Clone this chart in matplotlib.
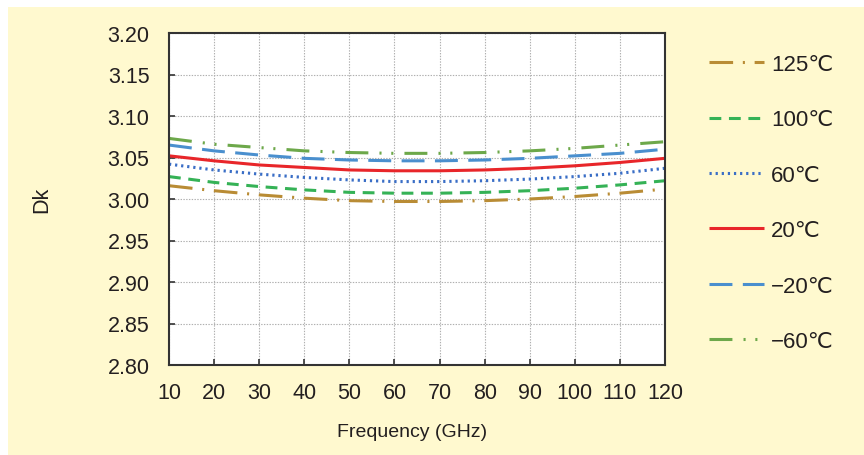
import matplotlib
matplotlib.use("Agg")
import matplotlib.pyplot as plt
from matplotlib.patches import Rectangle

plt.rcParams['font.family'] = ['Liberation Sans', 'DejaVu Sans']
plt.rcParams['lines.scale_dashes'] = False

# frequency (GHz) and Dk per temperature
freq = [10, 20, 30, 40, 50, 60, 70, 80, 90, 100, 110, 120]
dk_125 = [3.016, 3.010, 3.005, 3.001, 2.998, 2.997, 2.997, 2.998, 3.000, 3.003, 3.007, 3.012]
dk_100 = [3.027, 3.020, 3.015, 3.011, 3.008, 3.007, 3.007, 3.008, 3.010, 3.013, 3.017, 3.022]
dk_60 = [3.042, 3.035, 3.030, 3.026, 3.023, 3.021, 3.021, 3.022, 3.024, 3.027, 3.031, 3.037]
dk_20 = [3.052, 3.046, 3.041, 3.038, 3.035, 3.034, 3.034, 3.035, 3.037, 3.040, 3.044, 3.049]
dk_m20 = [3.065, 3.058, 3.053, 3.049, 3.047, 3.046, 3.046, 3.047, 3.049, 3.052, 3.055, 3.060]
dk_m60 = [3.073, 3.066, 3.062, 3.058, 3.056, 3.055, 3.055, 3.056, 3.058, 3.061, 3.065, 3.069]
labels = ["125℃", "100℃", "60℃", "20℃", "−20℃", "−60℃"]

text_color = "#231f20"

fig = plt.figure(figsize=(8.64, 4.56), dpi=100)
fig.patch.set_facecolor("white")
fig.add_artist(Rectangle((8 / 864, 0), 1 - 8 / 864, (456 - 8) / 456,
                         transform=fig.transFigure, facecolor="#fff9cf",
                         edgecolor="none", zorder=-10))

ax = fig.add_axes([169 / 864, 1 - 366 / 456, 496 / 864, 332 / 456])
ax.set_facecolor("white")

styles = [
    dict(color="#b98c35", dashes=(17, 7, 1.5, 7)),
    dict(color="#35b256", dashes=(8.5, 5.5)),
    dict(color="#3a6ec6", dashes=(1.6, 2.8)),
    dict(color="#e8262a", linestyle="-"),
    dict(color="#4a8fce", dashes=(16.5, 7.5)),
    dict(color="#6da84a", dashes=(16.5, 8, 1.5, 7, 1.5, 8)),
]
series = [dk_125, dk_100, dk_60, dk_20, dk_m20, dk_m60]
for vals, lab, st in zip(series, labels, styles):
    ax.plot(freq, vals, label=lab, linewidth=2.2, solid_capstyle="butt",
            dash_capstyle="butt", **st)

ax.set_xlim(10, 120)
ax.set_ylim(2.80, 3.20)
ax.set_xticks(freq)
ax.set_yticks([2.80 + 0.05 * i for i in range(9)])
ax.set_yticklabels(["%.2f" % (2.80 + 0.05 * i) for i in range(9)])
ax.grid(True, color="#b0b0b0", linestyle=(0, (1, 1)), linewidth=0.8)
ax.set_axisbelow(True)
ax.tick_params(direction="in", length=4.5, width=1.2, color="#333333",
               labelsize=15.5, labelcolor=text_color)
ax.tick_params(axis="x", pad=12)
ax.tick_params(axis="y", pad=14)
for sp in ax.spines.values():
    sp.set_color("#333333")
    sp.set_linewidth(1.5)

ax.set_xlabel("Frequency (GHz)", fontsize=14, color=text_color)
ax.xaxis.set_label_coords(0.49, -0.175)
ax.set_ylabel("Dk", fontsize=15.5, color=text_color)
ax.yaxis.set_label_coords(-0.235, 0.5)

leg = fig.legend(loc="upper left", bbox_to_anchor=(700 / 864, 1 - 46 / 456),
                 frameon=False, fontsize=16, handlelength=2.5,
                 handletextpad=0.3, labelspacing=1.55, borderaxespad=0)
for t in leg.get_texts():
    t.set_color(text_color)

plt.savefig("out.png", dpi=100, facecolor=fig.get_facecolor())
